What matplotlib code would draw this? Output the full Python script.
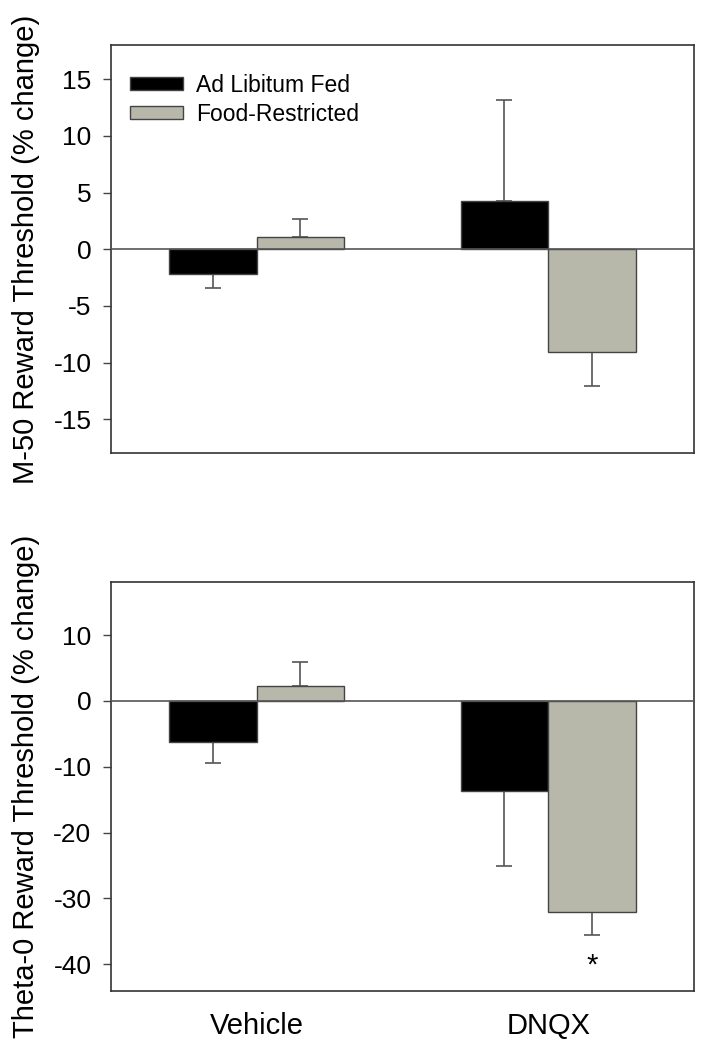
import numpy as np
import matplotlib.pyplot as plt
from matplotlib.ticker import FuncFormatter

plt.rcParams['font.family'] = ['Liberation Sans', 'DejaVu Sans']

# dados
grupos = ['Vehicle', 'DNQX']
series = ['Ad Libitum Fed', 'Food-Restricted']

m50_media = [[-2.2, 4.3], [1.05, -9.05]]
m50_erro = [[1.2, 8.9], [1.65, 3.0]]

theta_media = [[-6.3, -13.7], [2.3, -32.0]]
theta_erro = [[3.1, 11.3], [3.65, 3.6]]

cores = ['#000000', '#b7b7aa']
largura = 0.3
x = np.arange(len(grupos))

fig = plt.figure(figsize=(7.06, 10.5), dpi=100)
ax1 = fig.add_axes([0.157, 0.5683, 0.826, 0.3886])
ax2 = fig.add_axes([0.157, 0.0565, 0.826, 0.3889])

hifen = FuncFormatter(lambda v, p: '%g' % v)


def painel(ax, medias, erros, ylim, yticks, ylabel):
    for k in range(len(series)):
        pos = x + (k - 0.5) * largura
        ax.bar(pos, medias[k], width=largura, color=cores[k],
               edgecolor='#444444', linewidth=1, label=series[k], zorder=2)
        m = np.array(medias[k])
        e = np.array(erros[k])
        baixo = np.where(m < 0, e, 0)
        cima = np.where(m >= 0, e, 0)
        ax.errorbar(pos, m, yerr=[baixo, cima], fmt='none', ecolor='#555555',
                    elinewidth=1.2, capsize=6, capthick=1.2, zorder=1)
    ax.axhline(0, color='#555555', linewidth=1.2, zorder=3)
    ax.set_xlim(-0.5, 1.5)
    ax.set_ylim(*ylim)
    ax.set_yticks(yticks)
    ax.yaxis.set_major_formatter(hifen)
    ax.tick_params(axis='y', direction='out', length=6, width=1,
                   color='#444444', labelsize=19, pad=8)
    for s in ax.spines.values():
        s.set_color('#333333')
        s.set_linewidth(1.2)
    ax.set_ylabel(ylabel, fontsize=21)
    ax.yaxis.set_label_coords(-0.121, 0.5)


painel(ax1, m50_media, m50_erro, (-18, 18), [-15, -10, -5, 0, 5, 10, 15],
       'M-50 Reward Threshold (% change)')
painel(ax2, theta_media, theta_erro, (-44, 18), [-40, -30, -20, -10, 0, 10],
       'Theta-0 Reward Threshold (% change)')

ax1.set_xticks([])
ax2.set_xticks(x)
ax2.set_xticklabels(grupos, fontsize=21)
ax2.tick_params(axis='x', length=0, pad=15)

ax2.text(x[1] + 0.5 * largura, -40.2, '*', ha='center', va='center', fontsize=21)

ax1.legend(loc='upper left', bbox_to_anchor=(0.0326, 0.93), frameon=False,
           fontsize=16.5, handlelength=2.3, handleheight=0.5, handletextpad=0.6,
           labelspacing=0.25, borderpad=0, borderaxespad=0)

fig.savefig('out.png', dpi=100)
